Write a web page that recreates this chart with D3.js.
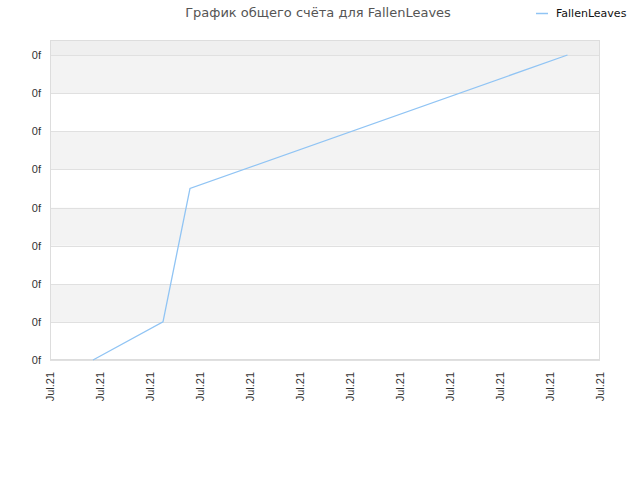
<!DOCTYPE html>
<html>
<head>
<meta charset="utf-8">
<script src="https://cdn.jsdelivr.net/npm/d3@7"></script>
<style>
  body { margin: 0; background: #fff; }
  svg { font-family: "DejaVu Sans", Verdana, sans-serif; }
</style>
</head>
<body>
<div id="chart"></div>
<script>
// series: x in tick units (0..11), y in grid units (0..8)
var seriesName = 'FallenLeaves'
var xValues = [0.86, 2.26, 2.8, 10.35]
var yValues = [0, 1, 4.5, 8]
var xTicks = [0, 1, 2, 3, 4, 5, 6, 7, 8, 9, 10, 11]
var xTickLabels = ['Jul.21', 'Jul.21', 'Jul.21', 'Jul.21', 'Jul.21', 'Jul.21',
                   'Jul.21', 'Jul.21', 'Jul.21', 'Jul.21', 'Jul.21', 'Jul.21']
var yTicks = [0, 1, 2, 3, 4, 5, 6, 7, 8]
var yTickLabels = ['0f', '0f', '0f', '0f', '0f', '0f', '0f', '0f', '0f']
var titleText = 'График общего счёта для FallenLeaves'

var cfg = {
  WIDTH: 640,
  HEIGHT: 480,
  margin: { top: 40, left: 50, bottom: 120, right: 40 }
}
cfg.w = cfg.WIDTH - cfg.margin.left - cfg.margin.right
cfg.h = cfg.HEIGHT - cfg.margin.top - cfg.margin.bottom

var svg = d3.select('#chart').append('svg')
  .attr('width', cfg.WIDTH)
  .attr('height', cfg.HEIGHT)

var xScale = d3.scaleLinear().domain([0, 11]).range([0, cfg.w])
// top of plot sits a little above the last gridline
var yScale = d3.scaleLinear().domain([0, 8]).range([cfg.h, 15])

var g = svg.append('g')
  .attr('transform', 'translate(' + cfg.margin.left + ',' + cfg.margin.top + ')')

// background bands
g.append('rect')
  .attr('x', 0).attr('y', 0)
  .attr('width', cfg.w).attr('height', yScale(8))
  .attr('fill', '#efefef')

g.selectAll('rect.band')
  .data(d3.range(0, 8))
  .enter()
  .append('rect')
  .attr('class', 'band')
  .attr('x', 0)
  .attr('y', function(d) { return yScale(d + 1) })
  .attr('width', cfg.w)
  .attr('height', function(d) { return yScale(d) - yScale(d + 1) })
  .attr('fill', function(d) { return d % 2 === 0 ? '#ffffff' : '#f3f3f3' })

// gridlines
g.selectAll('line.grid')
  .data(yTicks)
  .enter()
  .append('line')
  .attr('class', 'grid')
  .attr('x1', 0).attr('x2', cfg.w)
  .attr('y1', function(d) { return Math.round(yScale(d)) + 0.5 })
  .attr('y2', function(d) { return Math.round(yScale(d)) + 0.5 })
  .attr('stroke', '#e0e0e0')

// border
g.append('rect')
  .attr('x', 0.5).attr('y', 0.5)
  .attr('width', cfg.w - 1).attr('height', cfg.h - 1)
  .attr('fill', 'none')
  .attr('stroke', '#dddddd')

// y axis labels
var yAxis = d3.axisLeft(yScale)
  .tickValues(yTicks)
  .tickSize(0)
  .tickPadding(9)
  .tickFormat(function(d, i) { return yTickLabels[i] })

g.append('g')
  .call(yAxis)
  .call(function(a) { a.select('.domain').remove() })
  .selectAll('text')
  .attr('fill', '#333')
  .style('font-size', '11px')

// x axis labels
var xAxis = d3.axisBottom(xScale)
  .tickValues(xTicks)
  .tickSize(0)
  .tickFormat(function(d, i) { return xTickLabels[i] })

g.append('g')
  .attr('transform', 'translate(0,' + cfg.h + ')')
  .call(xAxis)
  .call(function(a) { a.select('.domain').remove() })
  .selectAll('text')
  .attr('fill', '#333')
  .style('font-size', '11px')
  .attr('text-anchor', 'end')
  .attr('dy', '0.35em')
  .attr('transform', 'translate(0,12) rotate(-90)')
  .attr('x', 0).attr('y', 0)

// the line
var line = d3.line()
  .x(function(d, i) { return xScale(xValues[i]) })
  .y(function(d, i) { return yScale(yValues[i]) })

g.append('path')
  .attr('d', line(yValues))
  .attr('fill', 'none')
  .attr('stroke', '#90c4f4')
  .attr('stroke-width', 1.3)

// title
svg.append('text')
  .attr('x', 318).attr('y', 17)
  .attr('text-anchor', 'middle')
  .attr('fill', '#555')
  .style('font-size', '13px')
  .text(titleText)

// legend
var lg = svg.append('g').attr('transform', 'translate(536,13)')
lg.append('line')
  .attr('x1', 0).attr('x2', 12)
  .attr('y1', 0.5).attr('y2', 0.5)
  .attr('stroke', '#90c4f4')
  .attr('stroke-width', 1.5)
lg.append('text')
  .attr('x', 20).attr('y', 0)
  .attr('dy', '0.35em')
  .attr('fill', '#111')
  .style('font-size', '11px')
  .text(seriesName)
</script>
</body>
</html>
